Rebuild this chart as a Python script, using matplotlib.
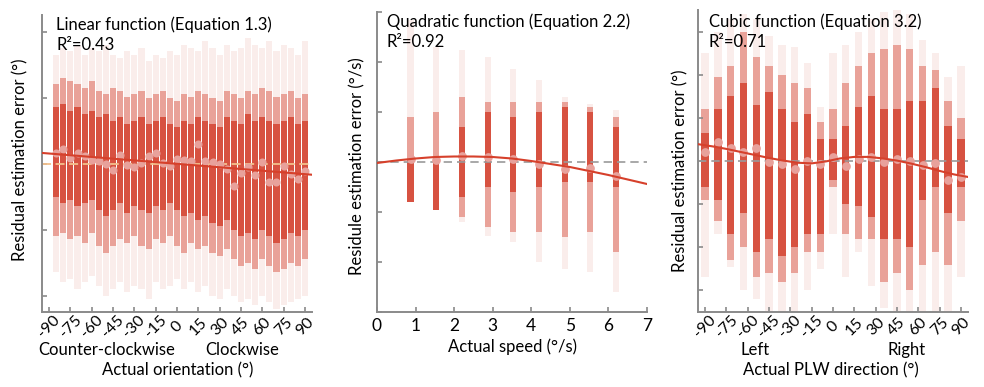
import matplotlib
matplotlib.use('Agg')
import matplotlib.pyplot as plt

plt.rcParams['font.family'] = ['Lato', 'DejaVu Sans']

# ---------------------------------------------------------------------------
# panel 1 : linear function, actual orientation
p1_x = [-85, -80, -75, -70, -65, -60, -55, -50, -45, -40, -35, -30,
        -25, -20, -15, -10, -5, 0, 5, 10, 15, 20, 25, 30,
        35, 40, 45, 50, 55, 60, 65, 70, 75, 80, 85, 90]
p1_out_hi = [33, 35, 34, 36, 33, 35, 34, 36, 33, 32, 34, 33,
             35, 31, 33, 32, 34, 33, 36, 35, 34, 37, 35, 33,
             36, 34, 35, 38, 36, 35, 37, 34, 36, 35, 33, 37]
p1_out_lo = [-33, -36, -35, -38, -36, -34, -37, -40, -38, -36, -39, -37,
             -38, -41, -36, -38, -37, -35, -38, -36, -39, -37, -40, -41,
             -38, -40, -42, -41, -43, -40, -42, -44, -43, -42, -41, -40]
p1_mid_hi = [24, 26, 25, 24, 23, 25, 22, 21, 23, 22, 20, 21,
             22, 20, 21, 22, 20, 19, 21, 20, 22, 21, 20, 19,
             22, 21, 20, 22, 21, 23, 22, 20, 21, 22, 20, 21]
p1_mid_lo = [-22, -21, -23, -22, -24, -21, -25, -27, -25, -23, -24, -22,
             -25, -26, -23, -24, -22, -25, -27, -24, -26, -25, -27, -28,
             -26, -29, -31, -30, -32, -29, -31, -33, -32, -30, -31, -29]
p1_core_hi = [17, 18, 16, 17, 15, 16, 14, 15, 13, 14, 12, 13,
              14, 12, 13, 14, 12, 11, 13, 12, 14, 13, 12, 11,
              14, 13, 12, 15, 13, 14, 13, 12, 13, 14, 12, 13]
p1_core_lo = [-10, -12, -11, -13, -12, -11, -14, -16, -14, -12, -15, -13,
              -14, -15, -13, -14, -12, -14, -16, -15, -17, -16, -18, -19,
              -17, -20, -22, -21, -23, -20, -22, -24, -23, -21, -22, -20]
p1_mean = [3.2, 4.4, 1.7, 3.2, 2.2, 1.1, 0.9, -0.1, -1.9, 2.6, -0.4, -1.1,
           0.1, 2.4, 3.2, 0.1, -0.9, 1.4, 1.1, 0.9, 5.8, 0.7, 0.4, -0.1,
           -1.6, -6.7, -2.9, -1.1, -3.6, 0.6, -5.7, -5.5, -0.8, -3.3, -4.8, -2.4]
p1_fit_x = [-95, 95]
p1_fit_y = [3.2, -3.4]
p1_ticks = [-90, -75, -60, -45, -30, -15, 0, 15, 30, 45, 60, 75, 90]

# ---------------------------------------------------------------------------
# panel 2 : quadratic function, actual speed
p2_x = [0.87, 1.53, 2.2, 2.87, 3.53, 4.2, 4.87, 5.53, 6.2]
p2_out_hi = [2.84, 2.3, 2.24, 2.1, 1.86, 1.64, 1.3, 1.16, 1.04]
p2_out_lo = [-0.8, -0.96, -1.2, -1.48, -1.6, -2.0, -2.14, -2.2, -2.6]
p2_mid_hi = [0.9, 1.0, 1.3, 1.2, 1.2, 1.2, 1.2, 1.1, 0.9]
p2_mid_lo = [-0.8, -0.96, -1.1, -1.3, -1.4, -1.4, -1.5, -1.4, -1.8]
p2_core_hi = [0.05, 0.05, 0.7, 1.0, 0.9, 1.0, 1.1, 1.0, 0.7]
p2_core_lo = [-0.8, -0.96, -0.7, -0.5, -0.6, -0.5, -0.4, -0.4, -0.5]
p2_mean = [0.06, 0.04, 0.12, 0.1, 0.06, -0.03, -0.14, -0.12, -0.28]
p2_fit_x = [0, 0.5, 1, 1.5, 2, 2.5, 3, 3.5, 4, 4.5, 5, 5.5, 6, 6.5, 7]
p2_fit_y = [-0.02, 0.03, 0.07, 0.1, 0.11, 0.11, 0.1, 0.07, 0.02, -0.04,
            -0.1, -0.18, -0.26, -0.35, -0.44]
p2_ticks = [0, 1, 2, 3, 4, 5, 6, 7]

# ---------------------------------------------------------------------------
# panel 3 : cubic function, actual PLW direction
p3_x = [-90, -81, -72, -63, -54, -45, -36, -27, -18, -9, 0,
        9, 18, 27, 36, 45, 54, 63, 72, 81, 90]
p3_out_hi = [25, 30, 33, 34, 33, 29, 27, 26.5, 22.6, 12.6, 25,
             27, 30, 33, 34.5, 35, 34, 28, 25, 19.5, 22]
p3_out_lo = [-27, -17, -24.5, -30, -32, -35, -35, -35, -30, -25, -17,
             -27, -21, -29, -34, -35, -35, -35, -35, -35, -27]
p3_mid_hi = [12, 19.5, 22, 30, 24, 22, 20, 18, 17, 9, 12,
             18, 22, 25, 26, 27, 26, 22, 21, 14, 10]
p3_mid_lo = [-9, -14, -23, -20, -27, -26, -28, -26, -21, -21, -6,
             -17, -18, -18, -28, -26, -30, -24, -21, -24, -14]
p3_core_hi = [6.4, 12, 15, 18, 13, 16, 12, 9, 11, 5, 5,
              8, 12.6, 15, 12, 12, 14, 14, 17, 8, 5]
p3_core_lo = [-6, -9, -17, -12, -21, -18, -22, -20, -17, -17, -4.4,
              -10, -10.5, -13, -18, -18, -20, -9, -6, -12, -6]
p3_mean = [2.2, 4.4, 3.1, 2.2, 2.9, -0.3, -0.8, -1.8, 0.1, -0.6, 1.0,
           -1.2, 0.5, 0.85, -0.2, 0.5, 0.0, -1.0, -0.5, -4.4, -3.6]
p3_fit_x = [-95, -85, -75, -65, -55, -45, -35, -25, -15, -5,
            5, 15, 25, 35, 45, 55, 65, 75, 85, 95]
p3_fit_y = [3.9, 3.4, 2.8, 2.1, 1.4, 0.7, 0.1, -0.4, -0.55, -0.1,
            0.6, 0.95, 0.95, 0.6, 0.1, -0.6, -1.4, -2.3, -3.1, -3.7]
p3_ticks = [-90, -75, -60, -45, -30, -15, 0, 15, 30, 45, 60, 75, 90]

RED = '#d23c28'
DOT = '#e8a19b'
FIT = '#d6402b'
SPINE = '#8a8a8a'
W, H = 984.0, 387.0


# =================================================================================================
def style_axis(ax):
    for side in ['top', 'right']:
        ax.spines[side].set_visible(False)
    for side in ['left', 'bottom']:
        ax.spines[side].set_color(SPINE)
        ax.spines[side].set_linewidth(1.4)
    ax.tick_params(direction='in', length=3.6, width=1.2, color=SPINE,
                   labelleft=False, labelsize=11.5)


def draw_columns(ax, x, width, out_lo, out_hi, mid_lo, mid_hi, core_lo, core_hi):
    h_out = [hi - lo for lo, hi in zip(out_lo, out_hi)]
    h_mid = [hi - lo for lo, hi in zip(mid_lo, mid_hi)]
    h_core = [hi - lo for lo, hi in zip(core_lo, core_hi)]
    ax.bar(x, h_out, bottom=out_lo, width=width, color=RED, alpha=0.09, linewidth=0, zorder=1)
    ax.bar(x, h_mid, bottom=mid_lo, width=width, color=RED, alpha=0.42, linewidth=0, zorder=1)
    ax.bar(x, h_core, bottom=core_lo, width=width, color=RED, alpha=0.78, linewidth=0, zorder=1)


def px(x, y):
    return x / W, 1 - y / H


# =================================================================================================
fig = plt.figure(figsize=(9.84, 3.87), dpi=100)
ax1 = fig.add_axes([42 / W, 75 / H, 270 / W, 297 / H])
ax2 = fig.add_axes([377 / W, 75 / H, 270 / W, 300 / H])
ax3 = fig.add_axes([698 / W, 75 / H, 270 / W, 302 / H])

# [1] linear
style_axis(ax1)
draw_columns(ax1, p1_x, 4.3, p1_out_lo, p1_out_hi, p1_mid_lo, p1_mid_hi, p1_core_lo, p1_core_hi)
ax1.axhline(0, color='#f3c08c', linewidth=1.3, dashes=(5, 2.5), zorder=2)
ax1.plot(p1_x, p1_mean, 'o', color=DOT, markersize=5.8, markeredgewidth=0, zorder=3)
ax1.plot(p1_fit_x, p1_fit_y, color=FIT, linewidth=1.5, zorder=4)
ax1.set_xlim(-95, 95)
ax1.set_ylim(-45, 45)
ax1.set_yticks([-40, -20, 0, 20, 40])
ax1.set_xticks(p1_ticks)
ax1.set_xticklabels([str(t) for t in p1_ticks], rotation=45, ha='center', va='center')
ax1.tick_params(axis='x', pad=10.5)

# [2] quadratic
style_axis(ax2)
draw_columns(ax2, p2_x, 0.16, p2_out_lo, p2_out_hi, p2_mid_lo, p2_mid_hi, p2_core_lo, p2_core_hi)
ax2.axhline(0, color='#9a9a9a', linewidth=1.2, dashes=(5, 3), zorder=2)
ax2.plot(p2_x, p2_mean, 'o', color=DOT, markersize=6.3, markeredgewidth=0, zorder=3)
ax2.plot(p2_fit_x, p2_fit_y, color=FIT, linewidth=1.5, zorder=4)
ax2.set_xlim(0, 7)
ax2.set_ylim(-3, 3)
ax2.set_yticks([-3, -2, -1, 0, 1, 2, 3])
ax2.set_xticks(p2_ticks)
ax2.tick_params(axis='x', pad=4, labelsize=12.5)

# [3] cubic
style_axis(ax3)
draw_columns(ax3, p3_x, 5.2, p3_out_lo, p3_out_hi, p3_mid_lo, p3_mid_hi, p3_core_lo, p3_core_hi)
ax3.axhline(0, color='#9a9a9a', linewidth=1.2, dashes=(5, 3), zorder=2)
ax3.plot(p3_x, p3_mean, 'o', color=DOT, markersize=6.3, markeredgewidth=0, zorder=3)
ax3.plot(p3_fit_x, p3_fit_y, color=FIT, linewidth=1.5, zorder=4)
ax3.set_xlim(-95, 95)
ax3.set_ylim(-35, 35)
ax3.set_yticks([-30, -20, -10, 0, 10, 20, 30])
ax3.set_xticks(p3_ticks)
ax3.set_xticklabels([str(t) for t in p3_ticks], rotation=45, ha='center', va='center')
ax3.tick_params(axis='x', pad=10.5)

# texts
fs = 12
fig.text(*px(56, 16), 'Linear function (Equation 1.3)', fontsize=fs, va='top')
fig.text(*px(56, 37), 'R²=0.43', fontsize=fs, va='top')
fig.text(*px(387, 13), 'Quadratic function (Equation 2.2)', fontsize=fs, va='top')
fig.text(*px(387, 34), 'R²=0.92', fontsize=fs, va='top')
fig.text(*px(709, 13), 'Cubic function (Equation 3.2)', fontsize=fs, va='top')
fig.text(*px(709, 34), 'R²=0.71', fontsize=fs, va='top')

fig.text(*px(20, 160), 'Residual estimation error (°)', fontsize=fs, rotation=90, ha='center', va='center')
fig.text(*px(357, 166), 'Residule estimation error (°/s)', fontsize=fs, rotation=90, ha='center', va='center')
fig.text(*px(680, 171), 'Residual estimation error (°)', fontsize=fs, rotation=90, ha='center', va='center')

fig.text(*px(107, 350), 'Counter-clockwise', fontsize=fs, ha='center', va='center')
fig.text(*px(242, 350), 'Clockwise', fontsize=fs, ha='center', va='center')
fig.text(*px(178, 370), 'Actual orientation (°)', fontsize=fs, ha='center', va='center')
fig.text(*px(512, 347), 'Actual speed (°/s)', fontsize=fs, ha='center', va='center')
fig.text(*px(755, 350), 'Left', fontsize=fs, ha='center', va='center')
fig.text(*px(907, 350), 'Right', fontsize=fs, ha='center', va='center')
fig.text(*px(831, 370), 'Actual PLW direction (°)', fontsize=fs, ha='center', va='center')

fig.savefig('out.png', dpi=100)
